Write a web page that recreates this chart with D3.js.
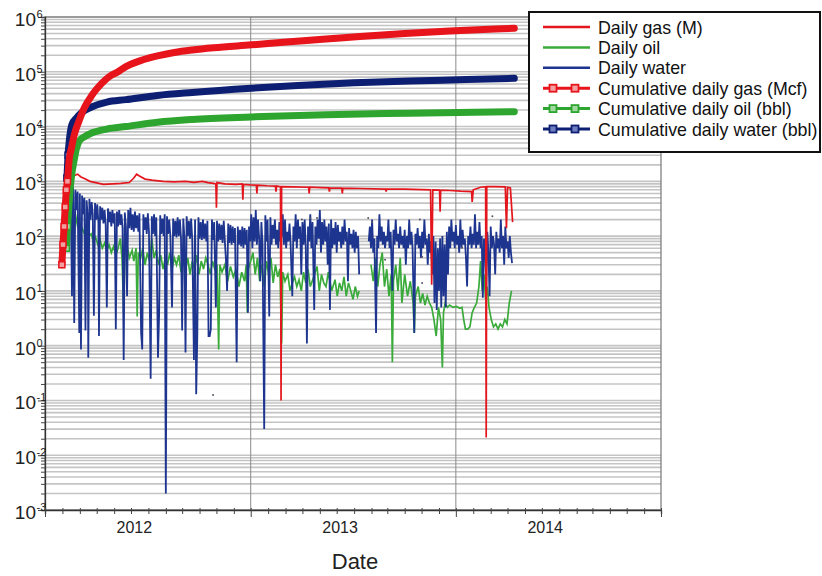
<!DOCTYPE html>
<html><head><meta charset="utf-8">
<script src="https://cdn.jsdelivr.net/npm/d3@7"></script>
<style>body{margin:0;background:#fff}svg{display:block}</style>
</head><body>
<svg id="chart" width="822" height="576"></svg>
<script>
// ---------- data (day offsets counted from the left edge of the time axis) ----------
const axisStart = new Date(2011, 6, 26);
const yearLabels = [2012, 2013, 2014];
const yExponents = [-3, -2, -1, 0, 1, 2, 3, 4, 5, 6];
const legendLabels = ["Daily gas (M)", "Daily oil", "Daily water",
  "Cumulative daily gas (Mcf)", "Cumulative daily oil (bbl)", "Cumulative daily water (bbl)"];

const cumGas = [[30,30],[32,70],[34,150],[36,340],[38,700],[40,1000],[43,2500],[47,4000],[52,7000],[61,13000],[70,22000],[84,38000],[100,60000],[114,81000],[130,100000],[144,124000],[170,160000],[200,195000],[230,225000],[262,250000],[300,275000],[367,310000],[430,350000],[500,395000],[560,440000],[640,500000],[720,555000],[780,590000],[835,620000]];
const cumOil = [[38,60],[40,150],[42,300],[44,600],[47,1200],[52,2500],[56,4000],[61,5500],[70,6500],[84,7700],[110,9000],[144,10000],[200,12000],[262,13500],[367,15000],[500,16500],[650,17500],[835,18700]];
const cumWater = [[39,1150],[41,3000],[44,6500],[48,11000],[55,14000],[65,18000],[84,23000],[110,28000],[144,31000],[200,37000],[262,42000],[367,50000],[450,56000],[550,63000],[650,68000],[750,72000],[835,76000]];

const dailyGas = [[38,1100],[42,1200],[50,1250],[58,1350],[64,1200],[72,1100],[80,1000],[90,950],[104,880],[120,900],[135,920],[150,950],[158,1150],[163,1350],[168,1250],[178,1100],[190,1050],[210,1000],[230,980],[250,1000],[265,960],[280,1000],[290,950],[300,920],[304,900],[305,330],[306,950],[320,900],[340,880],[351,900],[352,460],[353,880],[365,860],[376,850],[377,600],[378,850],[395,830],[410,820],[411,650],[412,820],[419,800],[420,0.1],[421,800],[440,790],[469,780],[470,600],[471,780],[490,770],[505,760],[506,650],[507,760],[528,750],[529,600],[530,750],[560,740],[606,720],[607,650],[608,720],[640,720],[686,700],[688,13],[690,700],[702,690],[703,280],[704,690],[720,680],[740,660],[759,650],[760,420],[762,700],[775,780],[784,800],[785,0.021],[786,800],[800,800],[819,790],[821,140],[823,780],[828,760],[832,180]];

const dailyOil = [[42,1100],[44,600],[46,350],[48,250],[50,400],[52,180],[55,220],[58,150],[61,160],[64,120],[66,140],[70,110],[74,130],[78,100],[82,110],[86,80],[90,95],[94,70],[98,85],[102,60],[106,75],[110,55],[114,70],[118,50],[122,65],[126,45],[130,60],[134,90],[137,40],[140,4],[142,45],[146,70],[150,40],[155,55],[158,35],[162,60],[164,3.4],[166,50],[170,40],[174,60],[178,30],[182,50],[186,35],[190,90],[194,40],[198,55],[202,30],[206,45],[210,25],[214,40],[218,30],[222,50],[226,25],[230,40],[234,30],[238,45],[242,22],[246,35],[250,25],[254,40],[258,20],[262,35],[266,25],[270,45],[274,20],[278,35],[282,25],[286,40],[290,30],[294,20],[298,35],[302,25],[306,30],[309,0.85],[311,30],[315,22],[320,30],[325,15],[330,28],[335,18],[340,25],[345,12],[350,22],[355,15],[358,30],[360,4],[362,25],[366,35],[370,50],[374,20],[378,40],[382,15],[386,30],[390,12],[394,35],[398,20],[402,40],[406,14],[410,30],[414,18],[418,25],[421,1.1],[423,22],[427,15],[432,20],[436,10],[440,14],[444,18],[448,12],[452,16],[456,10],[460,22],[464,14],[468,25],[472,12],[478,18],[484,28],[488,10],[492,20],[496,14],[500,12],[504,22],[510,10],[516,16],[520,8],[524,14],[528,10],[532,18],[536,8],[540,14],[544,10],[548,7],[552,12],[556,8],[559,10],[561,null],[580,30],[584,15],[588,40],[592,12],[596,30],[600,50],[604,12],[608,25],[612,8],[616,20],[618,0.5],[620,15],[624,30],[628,10],[632,40],[635,6],[640,20],[645,8],[650,15],[655,6],[657,1.7],[659,8],[664,12],[668,6],[672,9],[676,5.5],[680,8],[684,6],[688,5],[692,3],[696,1.5],[700,5],[704,3],[707,0.4],[709,4],[712,6],[716,5],[720,5.5],[726,5],[732,5.2],[738,4.8],[742,5],[745,3],[748,2],[752,2],[756,2.2],[760,4],[764,5],[768,6],[772,12],[775,35],[778,10],[781,20],[784,7],[787,12],[790,5],[794,3],[798,2.2],[802,2.5],[806,2],[810,2.5],[814,2.2],[818,3],[822,2.5],[826,6],[830,10]];

const dailyWater = [[36,1000],[38,700],[40,1100],[42,400],[44,900],[46,300],[48,8],[50,800],[52,2.6],[54,700],[56,300],[58,650],[61,1.7],[62,600],[64,0.85],[66,550],[68,250],[70,500],[72,1.9],[74,450],[76,220],[77,0.6],[79,480],[81,200],[83,420],[85,250],[87,3.5],[89,400],[91,200],[93,380],[95,180],[96,1.5],[98,350],[100,200],[102,330],[104,170],[106,300],[108,160],[110,5],[112,320],[114,180],[116,280],[118,150],[120,300],[122,170],[124,260],[126,2],[128,280],[130,150],[132,300],[134,160],[136,250],[138,140],[140,0.55],[142,270],[144,150],[146,8],[148,300],[150,140],[152,330],[154,130],[156,250],[158,120],[160,280],[162,140],[164,240],[166,120],[168,260],[171,1.7],[173,0.85],[175,250],[177,130],[179,220],[181,110],[183,260],[185,120],[188,0.25],[190,230],[192,110],[194,250],[196,100],[198,220],[201,0.6],[203,3.6],[205,240],[207,110],[209,210],[211,100],[213,250],[215,0.002],[217,230],[219,110],[221,200],[223,100],[226,5],[228,210],[230,100],[232,190],[234,95],[236,220],[238,100],[240,200],[242,90],[244,1.9],[246,210],[248,95],[250,0.75],[252,230],[254,100],[256,190],[258,90],[260,210],[262,85],[265,0.55],[267,200],[269,0.13],[271,1.5],[273,220],[275,90],[277,180],[279,85],[281,200],[283,90],[285,170],[287,80],[289,190],[291,1.5],[293,1.5],[295,2],[297,200],[299,85],[301,180],[304,5],[306,190],[308,80],[310,170],[312,85],[314,160],[316,75],[318,190],[320,80],[322,36],[324,10],[326,170],[328,75],[330,160],[332,70],[334,150],[336,75],[338,140],[341,0.5],[343,150],[345,70],[347,130],[349,65],[351,150],[353,60],[355,140],[357,70],[359,130],[361,4],[363,150],[365,80],[367,250],[369,60],[371,220],[373,80],[375,300],[377,70],[379,200],[381,90],[383,15],[385,180],[387,70],[390,0.03],[392,240],[394,80],[396,200],[399,3.4],[401,220],[403,70],[405,160],[407,90],[409,200],[411,70],[413,130],[415,60],[417,180],[419,80],[421,100],[423,250],[425,70],[427,200],[429,60],[431,120],[433,80],[435,170],[437,70],[440,8],[442,150],[444,80],[446,250],[448,60],[450,200],[452,90],[454,150],[456,20],[458,180],[460,70],[462,200],[464,60],[466,1.1],[468,150],[470,80],[472,250],[474,60],[476,180],[479,4.5],[481,150],[483,70],[485,200],[487,90],[489,300],[491,50],[493,180],[495,70],[497,200],[499,80],[501,150],[503,30],[505,170],[507,4.5],[509,200],[511,60],[513,140],[515,70],[517,180],[519,50],[521,160],[523,80],[525,120],[527,60],[529,150],[531,70],[533,200],[535,80],[537,120],[539,15],[541,140],[543,70],[545,110],[547,60],[549,130],[551,50],[553,120],[555,60],[557,100],[559,20],[560,null],[576,80],[578,150],[580,60],[582,200],[584,50],[586,90],[589,1.7],[591,100],[593,60],[595,250],[597,80],[599,150],[601,70],[603,120],[605,60],[607,100],[609,80],[611,200],[613,60],[615,120],[618,10],[620,130],[622,70],[624,200],[626,80],[628,110],[630,60],[632,150],[634,70],[636,100],[638,60],[640,130],[642,30],[644,100],[646,60],[648,200],[650,70],[652,120],[654,60],[657,1.7],[659,110],[661,70],[663,140],[665,60],[667,100],[669,40],[671,120],[673,60],[675,200],[677,70],[679,90],[681,30],[683,110],[685,50],[687,80],[689,20],[691,100],[693,6],[695,80],[697,4.5],[699,60],[701,10],[703,90],[705,5],[707,100],[709,8],[711,70],[713,5],[715,120],[717,20],[719,150],[721,60],[723,200],[725,80],[727,120],[729,60],[731,160],[733,70],[735,100],[737,50],[739,200],[741,60],[743,130],[745,70],[747,90],[749,40],[751,12],[753,100],[755,70],[757,150],[759,60],[761,110],[763,70],[765,250],[767,60],[769,120],[771,70],[773,180],[775,60],[777,100],[779,7.5],[781,90],[783,60],[785,10],[787,120],[789,50],[791,8],[793,150],[795,60],[797,100],[799,70],[801,20],[803,120],[805,60],[807,90],[809,50],[811,200],[813,60],[815,100],[817,30],[819,150],[821,60],[823,80],[825,40],[827,100],[829,50],[831,32]];

const waterDots = [[457,200],[472,215],[484,215],[575,215],[582,180],[605,37],[667,200],[671,42],[671,14],[796,230],[742,61],[299,0.126]];

// ---------- layout ----------
const svg = d3.select("#chart");
const L = 45, R = 661, T = 17, B = 510;
const x = d3.scaleTime().domain([axisStart, d3.timeYear.offset(axisStart, 3)]).range([L, R]);
const y = d3.scaleLog().domain([1e-3, 1e6]).range([B, T]);
const toDate = d => new Date(+axisStart + d * 864e5);
const FONT = "Liberation Sans, Arial, sans-serif";

const colors = {
  gas: "#e3161d", oil: "#3aab3a", water: "#1e3590",
  cgas: "#e8141c", coil: "#2ea52e", cwater: "#0d1f72"
};

// horizontal gridlines
const gridVals = [];
yExponents.forEach(e => { for (let m = 1; m <= 9; m++) { if (e === 6 && m > 1) break; gridVals.push(m * Math.pow(10, e)); } });
svg.append("g").selectAll("line").data(gridVals).join("line")
  .attr("x1", L).attr("x2", R).attr("y1", d => y(d)).attr("y2", d => y(d))
  .attr("stroke", "#c4c4c4").attr("stroke-width", 1.6);

// vertical (major) gridlines
const majorX = [1, 2].map(i => d3.timeYear.offset(axisStart, i));
svg.append("g").selectAll("line").data(majorX).join("line")
  .attr("x1", d => x(d)).attr("x2", d => x(d)).attr("y1", T).attr("y2", B)
  .attr("stroke", "#8a8a8a").attr("stroke-width", 1);

// frame
svg.append("rect").attr("x", L).attr("y", T).attr("width", R - L).attr("height", B - T)
  .attr("fill", "none").attr("stroke", "#777").attr("stroke-width", 1.2);

// y axis
const yAxis = d3.axisLeft(y).tickValues(gridVals).tickSize(4).tickFormat("");
const gy = svg.append("g").attr("transform", `translate(${L},0)`).call(yAxis);
gy.select(".domain").attr("stroke", "#333").attr("stroke-width", 1.3);
gy.selectAll(".tick line").attr("stroke", "#444").attr("x2", d => Math.abs(Math.log10(d) - Math.round(Math.log10(d))) < 1e-9 ? -7 : -4);
svg.append("g").selectAll("text").data(yExponents).join("text")
  .attr("x", 36).attr("y", e => y(Math.pow(10, e)) + 9)
  .attr("text-anchor", "end").attr("font-family", FONT)
  .attr("font-size", 19).attr("fill", "#222").text("10");
svg.append("g").selectAll("text").data(yExponents).join("text")
  .attr("x", 36.5).attr("y", e => y(Math.pow(10, e)) + 1)
  .attr("font-family", FONT)
  .attr("font-size", 11).attr("fill", "#222").text(e => e < 0 ? "-" + (-e) : e);

// x axis
const minorX = d3.range(0, 37).map(i => d3.timeMonth.offset(axisStart, i));
const xAxis = d3.axisBottom(x).tickValues(minorX).tickSize(4).tickFormat("");
const gx = svg.append("g").attr("transform", `translate(0,${B})`).call(xAxis);
gx.select(".domain").attr("stroke", "#333").attr("stroke-width", 1.3);
gx.selectAll(".tick line").attr("stroke", "#444").attr("y1", -2)
  .attr("y2", (d, i) => i % 12 === 0 ? 7 : 4);
svg.append("g").selectAll("text").data(yearLabels).join("text")
  .attr("x", d => x(new Date(d, 0, 1))).attr("y", 533)
  .attr("text-anchor", "middle").attr("font-family", FONT)
  .attr("font-size", 16).attr("fill", "#222").text(d => d);
svg.append("text").attr("x", 355).attr("y", 569).attr("text-anchor", "middle")
  .attr("font-family", FONT).attr("font-size", 22)
  .attr("fill", "#222").text("Date");

// lines
svg.append("clipPath").attr("id", "clip").append("rect")
  .attr("x", L).attr("y", T).attr("width", R - L).attr("height", B - T);
const plot = svg.append("g").attr("clip-path", "url(#clip)");
const line = d3.line().defined(d => d[1] != null).x(d => x(toDate(d[0]))).y(d => y(d[1]));
const smooth = d3.line().x(d => x(toDate(d[0]))).y(d => y(d[1])).curve(d3.curveMonotoneX);

plot.append("path").datum(dailyOil).attr("d", line).attr("fill", "none")
  .attr("stroke", colors.oil).attr("stroke-width", 1.7);
plot.append("path").datum(dailyWater).attr("d", line).attr("fill", "none")
  .attr("stroke", colors.water).attr("stroke-width", 1.8);
plot.append("g").selectAll("circle").data(waterDots).join("circle")
  .attr("cx", d => x(toDate(d[0]))).attr("cy", d => y(d[1])).attr("r", 1)
  .attr("fill", "#556");
plot.append("path").datum(dailyGas).attr("d", line).attr("fill", "none")
  .attr("stroke", colors.gas).attr("stroke-width", 1.7);

const cumSeries = [[cumOil, colors.coil, "#9fd99f"], [cumWater, colors.cwater, "#6f7fc0"], [cumGas, colors.cgas, "#f3a0a0"]];
cumSeries.forEach(([data, c, f]) => {
  plot.append("path").datum(data).attr("d", smooth).attr("fill", "none")
    .attr("stroke", c).attr("stroke-width", 7).attr("stroke-linecap", "round");
  // individual markers are only distinguishable where the curve is steep (start)
  plot.append("g").selectAll("rect").data(data.filter(d => d[0] < 42)).join("rect")
    .attr("x", d => x(toDate(d[0])) - 3).attr("y", d => y(d[1]) - 3)
    .attr("width", 6).attr("height", 6).attr("fill", f).attr("stroke", c).attr("stroke-width", 1.5);
});

// legend
const lg = svg.append("g");
lg.append("rect").attr("x", 529).attr("y", 12).attr("width", 291).attr("height", 140)
  .attr("fill", "#fff").attr("stroke", "#111").attr("stroke-width", 2);
const legendColors = [colors.gas, colors.oil, colors.water, colors.cgas, colors.coil, colors.cwater];
const legendFills = [null, null, null, "#f3a0a0", "#9fd99f", "#6f7fc0"];
legendLabels.forEach((lab, i) => {
  const cy = 27 + i * 20.4;
  lg.append("line").attr("x1", 543).attr("x2", 590).attr("y1", cy).attr("y2", cy)
    .attr("stroke", legendColors[i]).attr("stroke-width", i < 3 ? 2.5 : 3);
  if (legendFills[i]) {
    [553, 575].forEach(mx => lg.append("rect").attr("x", mx - 3.5).attr("y", cy - 3.5)
      .attr("width", 7).attr("height", 7).attr("fill", legendFills[i])
      .attr("stroke", legendColors[i]).attr("stroke-width", 1.8));
  }
  lg.append("text").attr("x", 598).attr("y", cy + 6.5).attr("font-family", FONT)
    .attr("font-size", 17.8).attr("fill", "#111").text(lab);
});
</script>
</body></html>
